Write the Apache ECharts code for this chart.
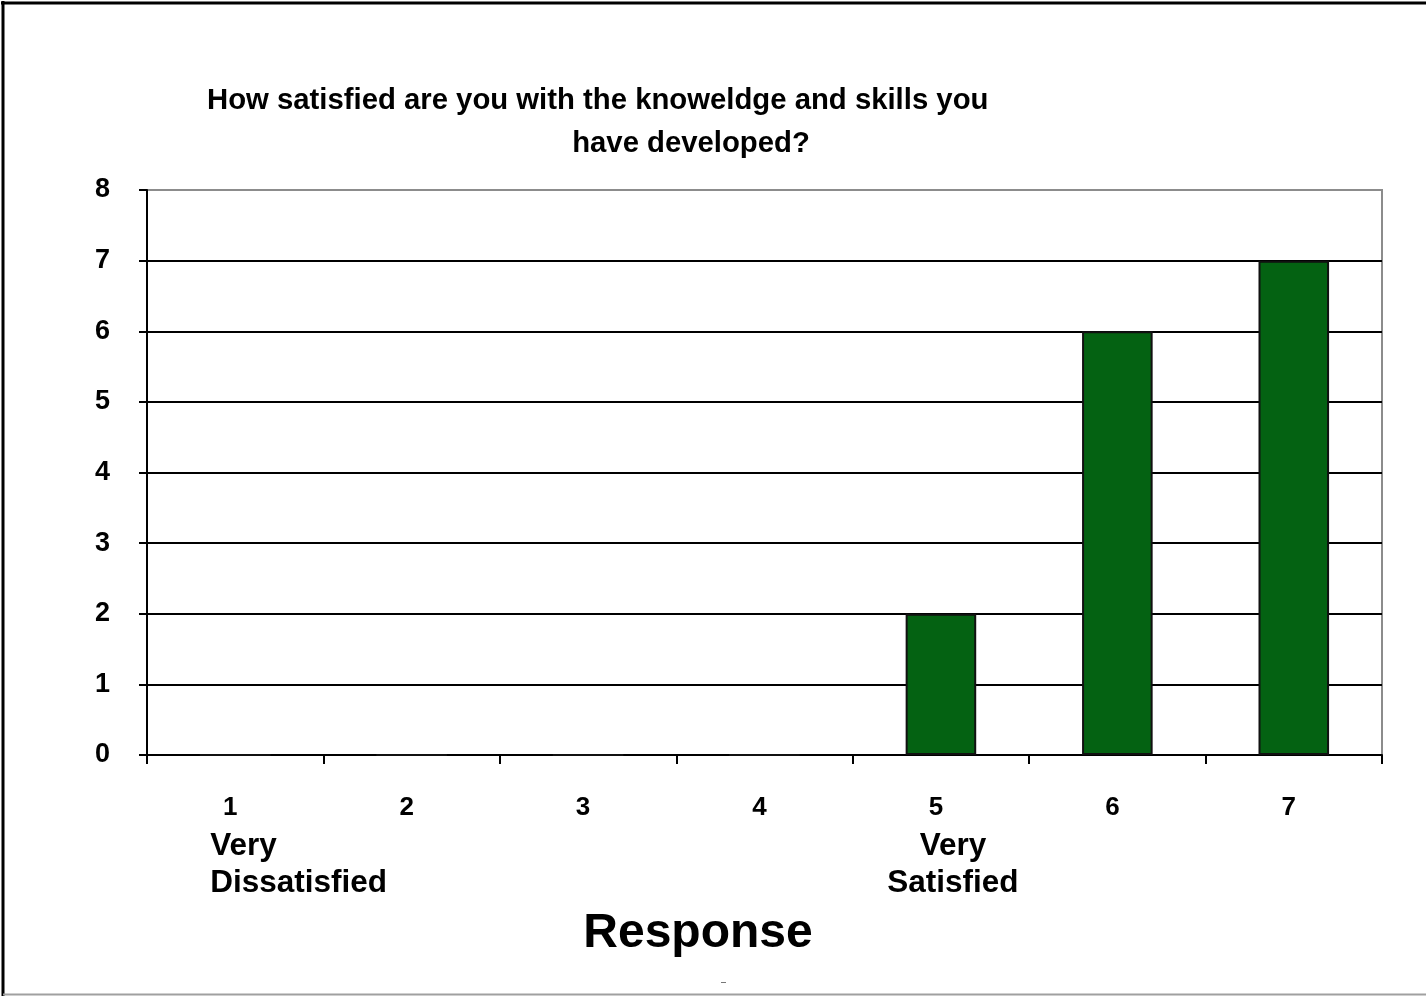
<!DOCTYPE html>
<html>
<head>
<meta charset="utf-8">
<script src="https://cdn.jsdelivr.net/npm/echarts@6/dist/echarts.min.js"></script>
<style>
  html, body { margin: 0; padding: 0; background: #fff; }
  #chart { width: 1426px; height: 996px; }
</style>
</head>
<body>
<div id="chart"></div>
<script>
// Survey responses on a 1-7 scale
const categories = ['1', '2', '3', '4', '5', '6', '7'];
const counts = [0, 0, 0, 0, 2, 6, 7];
const subLabels = ['Very\nDissatisfied', '', '', '', 'Very\nSatisfied', '', ''];
const titleLines = ['How satisfied are you with the knoweldge and skills you', 'have developed?'];
const axisTitle = 'Response';

const FONT = '"Liberation Sans", Arial, sans-serif';
const chart = echarts.init(document.getElementById('chart'), null, { renderer: 'canvas' });

// grid line colours: black for inner lines, grey for the top border line
const splitColors = ['#000', '#000', '#000', '#000', '#000', '#000', '#000', '#000', '#8c8c8c'];

chart.setOption({
  backgroundColor: '#fff',
  animation: false,
  title: [
    { text: titleLines[0], left: 202, top: 81,
      textStyle: { fontFamily: FONT, fontSize: 29.3, fontWeight: 'bold', color: '#000' } },
    { text: titleLines[1], left: 686, top: 124, textAlign: 'center',
      textStyle: { fontFamily: FONT, fontSize: 29.3, fontWeight: 'bold', color: '#000' } }
  ],
  grid: {
    left: 147, right: 44, top: 190, bottom: 241,
    show: true, borderColor: '#8c8c8c', borderWidth: 2, backgroundColor: 'transparent'
  },
  xAxis: {
    type: 'category',
    data: categories,
    boundaryGap: true,
    axisLine: { show: true, lineStyle: { color: '#000', width: 2 } },
    axisTick: { show: true, alignWithLabel: false, length: 9, lineStyle: { color: '#000', width: 2 } },
    axisLabel: {
      margin: 40, padding: [0, 10, 0, 0],
      fontFamily: FONT, fontSize: 26, fontWeight: 'bold', color: '#000'
    },
    splitLine: { show: false }
  },
  yAxis: {
    type: 'value',
    min: 0, max: 8, interval: 1,
    axisLine: { show: true, lineStyle: { color: '#000', width: 2 } },
    axisTick: { show: true, length: 8, lineStyle: { color: '#000', width: 2 } },
    axisLabel: { margin: 37, fontFamily: FONT, fontSize: 27, fontWeight: 'bold', color: '#000' },
    splitLine: { show: true, lineStyle: { color: splitColors, width: 1.8 } }
  },
  series: [{
    type: 'bar',
    data: counts,
    barWidth: '40%',
    itemStyle: { color: '#046212', borderColor: '#111', borderWidth: 2 }
  }]
});

// Descriptive wording under the end-point categories, placed from the category axis
const subOffsets = [{ dx: -25, align: 'left' }, null, null, null, { dx: 12, align: 'center' }, null, null];
const graphics = [];
subLabels.forEach((txt, i) => {
  if (!txt) return;
  const px = chart.convertToPixel({ xAxisIndex: 0 }, categories[i]);
  const o = subOffsets[i];
  graphics.push({
    type: 'text',
    x: px + o.dx, y: 828,
    style: {
      text: txt, align: o.align, verticalAlign: 'top', lineHeight: 37,
      font: 'bold 31.5px ' + FONT, fill: '#000'
    }
  });
});
graphics.push({
  type: 'text', x: 698, y: 934,
  style: { text: axisTitle, align: 'center', verticalAlign: 'middle', font: 'bold 48px ' + FONT, fill: '#000' }
});
graphics.push({
  type: 'line', shape: { x1: 721, y1: 982.5, x2: 726, y2: 982.5 },
  style: { stroke: '#777', lineWidth: 1 }
});
// outer frame: black on the left and top, grey along the bottom
graphics.push({ type: 'line', shape: { x1: 3, y1: 1, x2: 3, y2: 996 }, style: { stroke: '#000', lineWidth: 3 } });
graphics.push({ type: 'line', shape: { x1: 1, y1: 3, x2: 1426, y2: 3 }, style: { stroke: '#000', lineWidth: 3 } });
graphics.push({ type: 'line', shape: { x1: 3, y1: 994.5, x2: 1426, y2: 994.5 }, style: { stroke: '#a0a0a0', lineWidth: 2 } });

chart.setOption({ graphic: graphics });
</script>
</body>
</html>
